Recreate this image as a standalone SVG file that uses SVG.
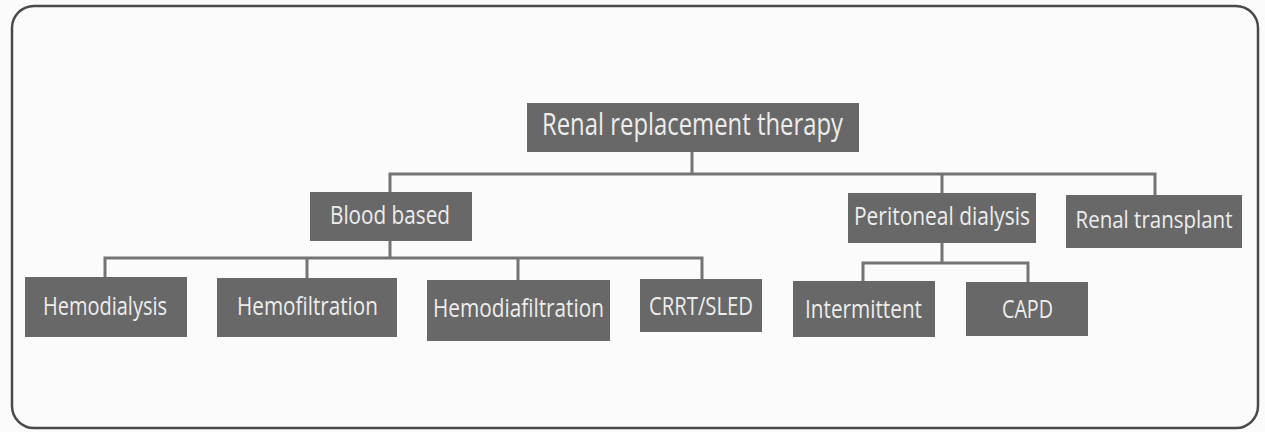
<svg xmlns="http://www.w3.org/2000/svg" width="1265" height="432" viewBox="0 0 1265 432">
<style>
.bx{fill:#686868;}
.tx{fill:#ededed;font-family:"Open Sans","Noto Sans",sans-serif;}
.t1{font-size:31px;}
.t2{font-size:26px;}
.ln{fill:none;stroke:#747474;stroke-width:3;}
</style>
<rect x="0" y="0" width="1265" height="432" fill="#fbfbfb"/>
<rect x="12" y="6" width="1246" height="422" rx="22" fill="none" stroke="#4a4a4a" stroke-width="2.5"/>
<g id="connectors">
<path class="ln" d="M692 152V174M390 192V174H1155V195M942 174V193"/>
<path class="ln" d="M390 241V258M105 277V258H702V279M307 258V278M518 258V280"/>
<path class="ln" d="M942 243V263M863 281V263H1028V282"/>
</g>
<g id="root"><rect class="bx" x="527" y="103" width="332" height="49"/><text class="tx t1" x="542" y="135" textLength="301" lengthAdjust="spacingAndGlyphs">Renal replacement therapy</text></g>
<g id="blood"><rect class="bx" x="310" y="192" width="162" height="49"/><text class="tx t2" x="330" y="224" textLength="120" lengthAdjust="spacingAndGlyphs">Blood based</text></g>
<g id="peritoneal"><rect class="bx" x="848" y="193" width="188" height="50"/><text class="tx t2" x="854" y="225" textLength="176" lengthAdjust="spacingAndGlyphs">Peritoneal dialysis</text></g>
<g id="transplant"><rect class="bx" x="1066" y="195" width="176" height="53"/><text class="tx" font-size="23" x="1154" y="228" text-anchor="middle" textLength="157" lengthAdjust="spacingAndGlyphs">Renal transplant</text></g>
<g id="hemodialysis"><rect class="bx" x="25" y="277" width="162" height="60"/><text class="tx t2" x="43" y="315" textLength="124" lengthAdjust="spacingAndGlyphs">Hemodialysis</text></g>
<g id="hemofiltration"><rect class="bx" x="217" y="278" width="180" height="59"/><text class="tx t2" x="237" y="315" textLength="141" lengthAdjust="spacingAndGlyphs">Hemofiltration</text></g>
<g id="hemodiafiltration"><rect class="bx" x="427" y="280" width="183" height="61"/><text class="tx t2" x="433" y="317" textLength="171" lengthAdjust="spacingAndGlyphs">Hemodiafiltration</text></g>
<g id="crrt"><rect class="bx" x="640" y="279" width="122" height="53"/><text class="tx t2" x="649" y="315" textLength="104" lengthAdjust="spacingAndGlyphs">CRRT/SLED</text></g>
<g id="intermittent"><rect class="bx" x="793" y="281" width="142" height="56"/><text class="tx t2" x="805" y="318" textLength="117" lengthAdjust="spacingAndGlyphs">Intermittent</text></g>
<g id="capd"><rect class="bx" x="966" y="282" width="122" height="54"/><text class="tx t2" x="1002" y="318" textLength="51" lengthAdjust="spacingAndGlyphs">CAPD</text></g>
</svg>
